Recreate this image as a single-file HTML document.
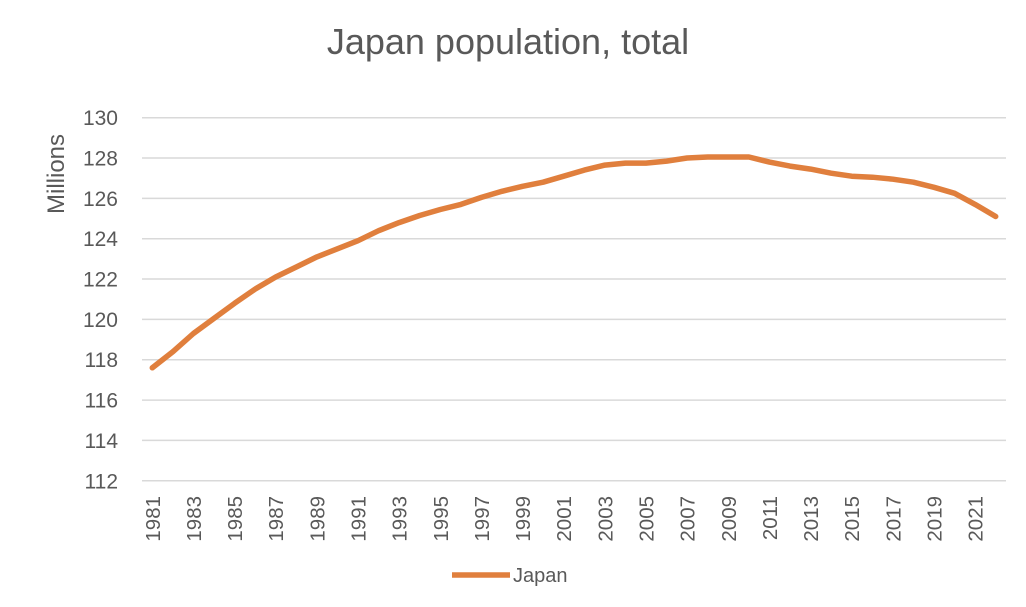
<!DOCTYPE html>
<html><head><meta charset="utf-8"><style>
html,body{margin:0;padding:0;background:#fff;}
text{font-family:"Liberation Sans",sans-serif;fill:#595959;}
</style></head><body>
<svg id="s" width="1026" height="602" xmlns="http://www.w3.org/2000/svg">
<text x="508" y="54" font-size="36" text-anchor="middle">Japan population, total</text>
<text transform="translate(64,174) rotate(-90)" font-size="24" text-anchor="middle">Millions</text>
<g id="g"></g>
<line x1="452" y1="575" x2="510" y2="575" stroke="#E07F3D" stroke-width="5.5"/>
<text x="513" y="582" font-size="20">Japan</text>
</svg>
<script>
var g=document.getElementById('g'),h='';
function Y(v){return 117.7+(130-v)*20.17;}
for(var v=112;v<=130;v+=2){var y=Y(v);h+='<line x1="142" x2="1006" y1="'+y+'" y2="'+y+'" stroke="#d9d9d9" stroke-width="1.5"/>';
h+='<text x="118" y="'+(y+7.5)+'" font-size="21" text-anchor="end">'+v+'</text>';}
var d=[117.6,118.4,119.3,120.05,120.8,121.5,122.1,122.6,123.1,123.5,123.9,124.4,124.8,125.15,125.45,125.7,126.05,126.35,126.6,126.8,127.1,127.4,127.65,127.75,127.75,127.85,128.0,128.05,128.05,128.05,127.8,127.6,127.45,127.25,127.1,127.05,126.95,126.8,126.55,126.25,125.7,125.1];
var step=864/42,pts=[];
for(var i=0;i<d.length;i++){var x=142+step*(i+0.5);pts.push(x.toFixed(1)+','+Y(d[i]).toFixed(1));
if(i%2==0){h+='<text transform="translate('+(x+7.5)+',496) rotate(-90)" font-size="20.5" text-anchor="end">'+(1981+i)+'</text>';}}
h+='<polyline points="'+pts.join(' ')+'" fill="none" stroke="#E07F3D" stroke-width="5.5" stroke-linejoin="round" stroke-linecap="round"/>';
g.innerHTML=h;
</script>
</body></html>
